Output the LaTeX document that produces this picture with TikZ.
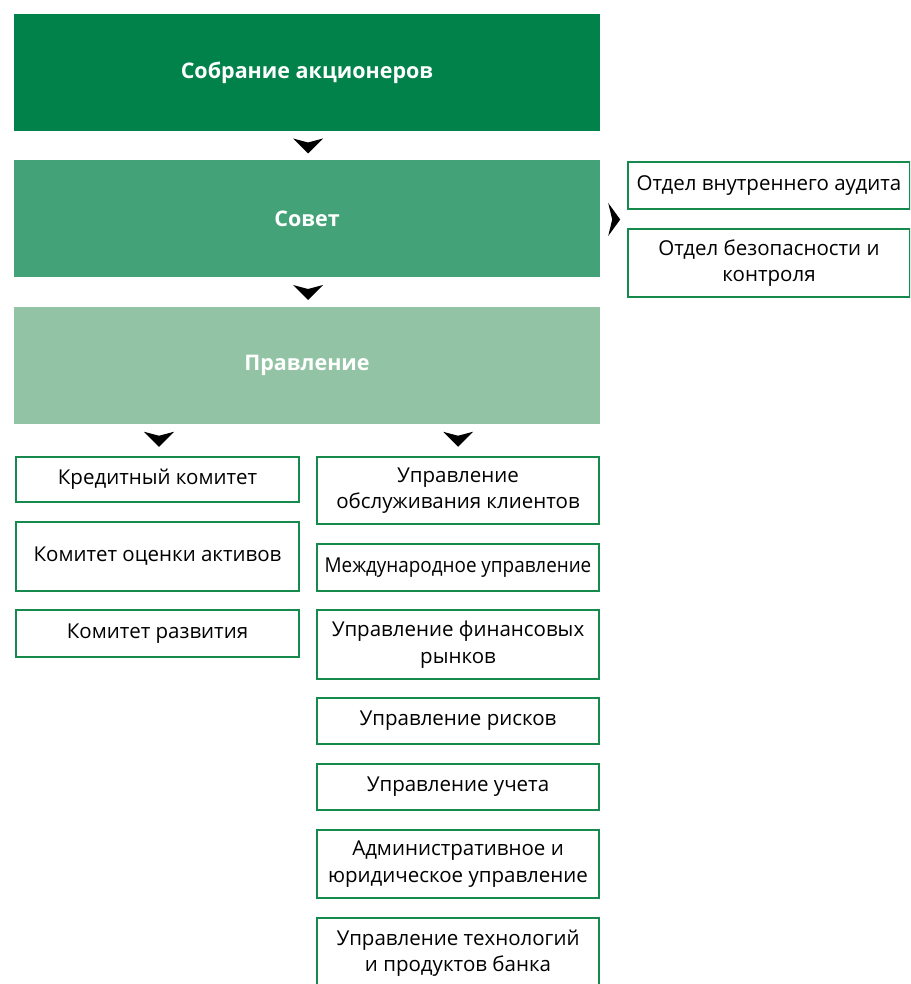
\documentclass[tikz,border=0pt]{standalone}
\usepackage{fontspec}
\setmainfont{Open Sans}
\usetikzlibrary{calc}
\definecolor{gA}{RGB}{0,130,74}
\definecolor{gB}{RGB}{67,162,119}
\definecolor{gC}{RGB}{146,195,164}
\definecolor{bd}{RGB}{22,137,76}
\tikzset{
  head/.style={fill=#1, text=white, font=\bfseries\fontsize{21.5}{24}\selectfont,
    inner sep=0pt, minimum width=586pt, minimum height=117pt},
  unit/.style={draw=bd, line width=2.5pt, fill=white, text=black,
    font=\fontsize{20.5}{26.5}\selectfont, align=center, inner sep=0pt},
  chevdown/.pic={\fill[black] (-15,-7) -- (0,-3) -- (15,-7) -- (0,8) -- cycle;},
  chevright/.pic={\fill[black] (-6,-16.5) -- (-2,0) -- (-6,16.5) -- (6,0) -- cycle;},
}
\begin{document}
\begin{tikzpicture}[x=1pt,y=-1pt]
\useasboundingbox (0,0) rectangle (910,984);
\clip (0,0) rectangle (910,984);
% heads
\node[head=gA] (sob) at (307,72.5) {Собрание акционеров};
\node[head=gB] (sov) at (307,218.5) {Совет};
\node[head=gC] (pra) at (307,365.5) {Правление};
% right of Совет
\node[unit, minimum width=282pt, minimum height=47pt] (tr1) at (769,185.5) {Отдел внутреннего аудита};
\node[unit, minimum width=282pt, minimum height=68pt] (tr2) at (769,263) {Отдел безопасности и\\контроля};
% left column
\node[unit, minimum width=283pt, minimum height=45pt] (l1) at (157.5,479.5) {Кредитный комитет};
\node[unit, minimum width=283pt, minimum height=69pt] (l2) at (157.5,556.5) {Комитет оценки активов};
\node[unit, minimum width=283pt, minimum height=47pt] (l3) at (157.5,633.5) {Комитет развития};
% right column
\node[unit, minimum width=282pt, minimum height=67pt] (r1) at (458,490.5) {Управление\\обслуживания клиентов};
\node[unit, minimum width=282pt, minimum height=47pt] (r2) at (458,567.5) {\scalebox{0.92}[1]{Международное управление}};
\node[unit, minimum width=282pt, minimum height=69pt] (r3) at (458,644.5) {Управление финансовых\\рынков};
\node[unit, minimum width=282pt, minimum height=46pt] (r4) at (458,721) {Управление рисков};
\node[unit, minimum width=282pt, minimum height=46pt] (r5) at (458,787) {Управление учета};
\node[unit, minimum width=282pt, minimum height=68pt] (r6) at (458,864) {Административное и\\юридическое управление};
\node[unit, minimum width=282pt, minimum height=70pt] (r7) at (458,953) {Управление технологий\\и продуктов банка};
% chevrons
\pic at ($(sob.south)!0.5!(sov.north)+(1,0)$) {chevdown};
\pic at ($(sov.south)!0.5!(pra.north)+(1,0)$) {chevdown};
\pic at ($(l1.north)+(1.5,-17)$) {chevdown};
\pic at ($(r1.north)+(0,-17)$) {chevdown};
\pic at ($(sov.east)+(14,1)$) {chevright};
\end{tikzpicture}
\end{document}
